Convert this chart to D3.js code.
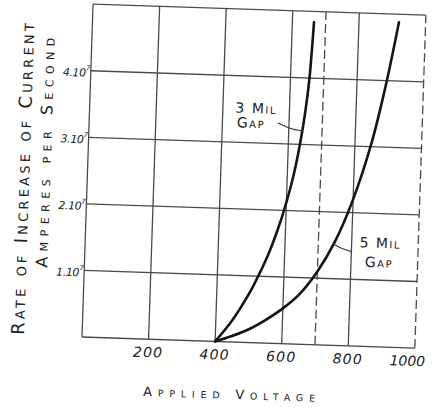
<!DOCTYPE html>
<html><head><meta charset="utf-8">
<script src="https://cdn.jsdelivr.net/npm/d3@7"></script>
<style>html,body{margin:0;padding:0;background:#fff;} svg{display:block;}</style>
</head><body>
<script>
// ---- data ----
const xTickValues = [200, 400, 600, 800, 1000];
const xTickLabels = ["200", "400", "600", "800", "1000"];
const yTickValues = [1, 2, 3, 4];
const yTickLabels = ["1.10", "2.10", "3.10", "4.10"];
const yTickExponent = "7";
const xGridSolid = [0, 200, 400, 600, 800];
const xGridDashed = [700, 1000];
const yGridLines = [0, 1, 2, 3, 4, 5];
const mil3Voltage = [400, 450, 500, 520, 550, 575, 600, 620, 635, 648, 657, 665];
const mil3Rate    = [0, 0.33, 0.76, 0.97, 1.32, 1.68, 2.12, 2.56, 3.0, 3.5, 4.0, 4.84];
const mil5Voltage = [400, 450, 500, 550, 600, 650, 700, 750, 800, 850, 888, 920];
const mil5Rate    = [0, 0.09, 0.2, 0.35, 0.53, 0.76, 1.1, 1.56, 2.2, 3.06, 3.96, 4.88];
const label3Text = ["3 Mil", "Gap"];
const label3At = [[500, 3.52], [486, 3.30]];
const leader3 = [[567, 3.31], [604, 3.236], [640, 3.20]];
const label5Text = ["5 Mil", "Gap"];
const label5At = [[886, 1.56], [884, 1.27]];
const leader5 = [[745, 1.52], [770, 1.46], [802, 1.41]];
const yTitle = ["Rate of Increase of Current", "Amperes per Second"];
const xTitle = "Applied Voltage";

// ---- layout ----
const W = 432, H = 412, PW = 333, PH = 333;
const ink = "#222";
const svg = d3.select("body").append("svg").attr("width", W).attr("height", H);
svg.append("rect").attr("width", W).attr("height", H).attr("fill", "#fff");
const g = svg.append("g").attr("transform", "translate(82,337) rotate(1.9) translate(0,-333)");

const x = d3.scaleLinear().domain([0, 1000]).range([0, PW]);
const y = d3.scaleLinear().domain([0, 5]).range([PH, 0]);

function smallCaps(sel, str, big, small) {
  const runs = [];
  for (const ch of str) {
    const s = ch >= 'a' && ch <= 'z';
    const last = runs[runs.length - 1];
    if (last && last.s === s) last.t += ch; else runs.push({ s, t: ch });
  }
  sel.selectAll("tspan").data(runs).join("tspan")
    .attr("font-size", d => d.s ? small : big)
    .text(d => d.t.toUpperCase());
}

// grid
const grid = g.append("g").attr("stroke", "#4a4a4a").attr("stroke-width", 1.3).attr("fill", "none");
grid.selectAll("line.h").data(yGridLines).join("line").attr("class", "h")
  .attr("x1", x(0)).attr("x2", x(1000)).attr("y1", d => y(d)).attr("y2", d => y(d));
grid.selectAll("line.vs").data(xGridSolid).join("line").attr("class", "vs")
  .attr("x1", d => x(d)).attr("x2", d => x(d)).attr("y1", y(0)).attr("y2", y(5));
grid.selectAll("line.vd").data(xGridDashed).join("line").attr("class", "vd")
  .attr("x1", d => x(d)).attr("x2", d => x(d)).attr("y1", y(0)).attr("y2", y(5))
  .attr("stroke-dasharray", "9,4");

// curves
const line = d3.line().x(d => x(d[0])).y(d => y(d[1])).curve(d3.curveCatmullRom.alpha(0.5));
g.append("path").datum(mil3Voltage.map((v, i) => [v, mil3Rate[i]]))
  .attr("d", line).attr("fill", "none").attr("stroke", "#151515").attr("stroke-width", 2.6).attr("stroke-linecap", "round");
g.append("path").datum(mil5Voltage.map((v, i) => [v, mil5Rate[i]]))
  .attr("d", line).attr("fill", "none").attr("stroke", "#151515").attr("stroke-width", 2.6).attr("stroke-linecap", "round");

// leaders
const leadLine = d3.line().x(d => x(d[0])).y(d => y(d[1])).curve(d3.curveNatural);
[leader3, leader5].forEach(L => {
  g.append("path").attr("d", leadLine(L)).attr("fill", "none").attr("stroke", "#333").attr("stroke-width", 1.2);
});

// annotations
const font = "'DejaVu Sans', sans-serif";
[[label3Text, label3At], [label5Text, label5At]].forEach(([txt, at]) => {
  txt.forEach((t, i) => {
    g.append("text").attr("x", x(at[i][0])).attr("y", y(at[i][1]) + 5)
      .attr("text-anchor", "middle").attr("font-family", font).attr("fill", ink)
      .attr("letter-spacing", 1.5)
      .call(s => smallCaps(s, t, 14, 10));
  });
});

// x tick labels
const lastX = xTickValues.length - 1;
g.selectAll("text.xt").data(xTickValues).join("text").attr("class", "xt")
  .attr("x", d => x(d)).attr("y", PH + 18)
  .attr("dx", (d, i) => i === lastX ? -7 : 0)
  .attr("text-anchor", "middle").attr("font-family", font).attr("font-style", "italic")
  .attr("font-size", 14).attr("letter-spacing", (d, i) => i === lastX ? 0 : 1.2).attr("fill", ink)
  .text((d, i) => xTickLabels[i]);

// y tick labels
const yt = g.selectAll("text.yt").data(yTickValues).join("text").attr("class", "yt")
  .attr("x", -1).attr("y", d => y(d) + 6)
  .attr("text-anchor", "end").attr("font-family", font).attr("font-style", "italic")
  .attr("font-size", 11).attr("letter-spacing", -0.4).attr("fill", ink);
yt.append("tspan").text((d, i) => yTickLabels[i]);
yt.append("tspan").attr("font-size", 7).attr("dy", -6).text(yTickExponent);

// titles
const yTitlePos = [[-58, 177, 312, 18, 13], [-37, 150, 230, 16, 11]];
yTitle.forEach((t, i) => {
  const [tx, ty, len, big, small] = yTitlePos[i];
  g.append("text").attr("x", tx).attr("y", ty)
    .attr("transform", `rotate(-90,${tx},${ty})`)
    .attr("text-anchor", "middle").attr("font-family", font).attr("fill", ink)
    .attr("textLength", len).attr("lengthAdjust", "spacing")
    .call(s => smallCaps(s, t, big, small));
});
g.append("text").attr("x", 149).attr("y", 390)
  .attr("text-anchor", "middle").attr("font-family", font).attr("fill", ink)
  .attr("textLength", 172).attr("lengthAdjust", "spacing")
  .call(s => smallCaps(s, xTitle, 13, 9.5));
</script>
</body></html>
